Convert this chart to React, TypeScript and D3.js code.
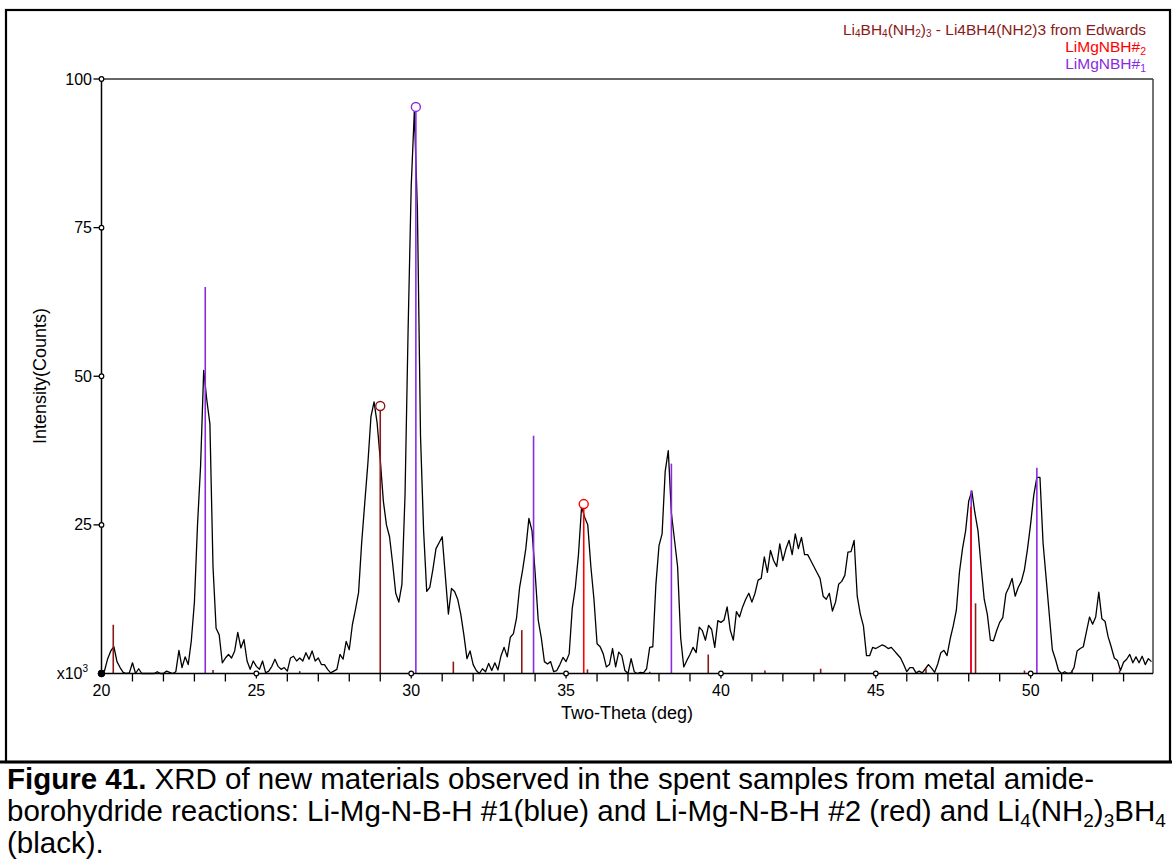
import React from "react";
import * as d3 from "d3";

// XRD pattern of the spent sample, sampled every 0.1 deg two-theta from 20.0
const START_2THETA = 20.0;
const STEP_2THETA = 0.1;
const counts: number[] = [
  // 20.0 - 20.9
  0, 0.5, 2.5, 3.8, 4.5, 2.0, 1.0, 0.2, 0, 0.1,
  // 21.0
  1.8, 0, 0.8, 0, 0, 0, 0, 0, 0.3, 0,
  // 22.0
  0, 0.4, 0.2, 0, 0.3, 3.9, 1.0, 2.8, 1.5, 5.5,
  // 23.0
  12, 25, 35, 51, 46, 42, 18, 7.6, 6.5, 1.8,
  // 24.0
  2.6, 3.2, 2.6, 3.8, 6.9, 4.3, 5.7, 2.1, 0.7, 2.1,
  // 25.0
  1.2, 0.7, 2.1, 0.1, 0.4, 1.2, 2.4, 1.2, 0.7, 1.0,
  // 26.0
  0.4, 2.6, 2.9, 2.1, 2.6, 2.1, 3.5, 2.4, 3.8, 2.1,
  // 27.0
  2.6, 1.5, 1.5, 0.7, 0.1, 0.4, 0.7, 3.2, 2.4, 5.4,
  // 28.0
  4.0, 8.2, 10.8, 13.6, 22.0, 28.7, 35.3, 43.2, 45.7, 42.1,
  // 29.0
  36, 29, 25, 23, 18.5, 13.5, 12, 15, 30, 58,
  // 30.0
  82, 94.5, 78, 40, 24, 13.8, 14.5, 17.5, 21, 22,
  // 31.0
  23, 16.5, 10, 14.3, 13.8, 12.5, 10, 6.5, 2.5, 3.8,
  // 32.0
  1.5, 0.5, 0, 0.8, 0.3, 1.7, 0.5, 1.8, 0.6, 3.0,
  // 33.0
  4.4, 2.8, 6.1, 6.7, 9.3, 14.5, 17.5, 21, 26.1, 24,
  // 34.0
  17, 9, 6, 2.0, 1.6, 2.0, 0.3, 0.5, 1.5, 2.7,
  // 35.0
  2.0, 3.3, 11, 14.5, 20, 28, 26.3, 25, 18, 12.5,
  // 36.0
  5.0, 4.5, 3.3, 1.1, 1.5, 4.2, 1.1, 3.6, 3.0, 0.5,
  // 37.0
  0, 2.5, 0.3, 0, 0.2, 0.1, 0.8, 4.4, 4.5, 15,
  // 38.0
  21.5, 23.5, 34, 37.5, 27, 22.5, 18, 6, 1.1, 2.2,
  // 39.0
  3.2, 4.4, 3.5, 7.8, 7.2, 5.6, 8.1, 7.4, 4.4, 8.9,
  // 40.0
  8.6, 9.0, 11.2, 7.3, 5.6, 10.4, 9.5, 11.2, 12.5, 13.5,
  // 41.0
  12, 13.5, 15.7, 16, 19.6, 17, 20.7, 19, 18, 21.8,
  // 42.0
  19, 21, 22.4, 20, 23.5, 21, 22.9, 20, 20, 19,
  // 43.0
  18, 17, 16, 13, 12.5, 13.5, 10.5, 12, 15, 15.5,
  // 44.0
  16.5, 20.4, 20.5, 22.4, 13, 10, 8.0, 3.0, 3.0, 4.4,
  // 45.0
  4.2, 4.5, 4.8, 4.6, 4.2, 4.4, 3.8, 3.2, 2.6, 1.5,
  // 46.0
  0.3, 1.0, 1.0, 0.1, 0.4, 0.1, 0.8, 1.5, 0.9, 0.2,
  // 47.0
  1.6, 3.5, 3.9, 3.0, 5.8, 8.0, 10.6, 17, 21, 24,
  // 48.0
  29, 30.7, 27, 24, 18, 12.5, 10, 5.6, 5.5, 7.2,
  // 49.0
  8.6, 9.4, 13.4, 14.5, 16, 13, 14.5, 15.5, 17.5, 21,
  // 50.0
  25.2, 30, 33, 33, 22, 16, 10, 4, 2.4, 0.5,
  // 51.0
  0, 0.3, 0, 0.1, 1.0, 3.8, 4.2, 4.5, 7.0, 9.5,
  // 52.0
  8.3, 9.5, 13.7, 9.2, 8.8, 6.2, 4.5, 2.6, 2.2, 0.5,
  // 53.0
  1.9, 2.4, 3.2, 1.8, 2.8, 1.8, 2.9, 1.5, 2.5, 2.0,
];

// Reference stick patterns (two-theta, relative intensity in x10^3 counts)
const mg1Pos = [23.35, 30.15, 33.95, 38.4, 48.08, 50.2];
const mg1Int = [65, 95.3, 40, 35.3, 30.8, 34.6];

const mg2Pos = [35.57, 48.07];
const mg2Int = [28.5, 28];

const edwPos = [20.38, 23.6, 26.4, 29.0, 31.36, 33.57, 35.69, 37.7, 39.59, 41.42, 43.22, 46.62, 48.22, 49.8, 51.34, 52.87];
const edwInt = [8.2, 0.6, 0.4, 45, 2.0, 7.3, 0.7, 0.3, 3.2, 0.5, 0.8, 0.8, 11.8, 0.5, 0.5, 0.5];

// Strongest line of each phase gets an open circle
const mg1Strongest = 30.15;
const mg2Strongest = 35.57;
const edwStrongest = 29.0;

const xMajorTicks = [20, 25, 30, 35, 40, 45, 50];
const xMinorTicks = [21, 22, 23, 24, 26, 27, 28, 29, 31, 32, 33, 34, 36, 37, 38, 39, 41, 42, 43, 44, 46, 47, 48, 49, 51, 52, 53];
const yMajorTicks = [25, 50, 75, 100];

const PURPLE = "#8a2be2";
const RED = "#ff0000";
const DARKRED = "#8b1a1a";
const FONT = "Arial, 'Liberation Sans', Helvetica, sans-serif";

export default function App() {
  const x = d3.scaleLinear().domain([20, 53.95]).range([101.5, 1153]);
  const y = d3.scaleLinear().domain([0, 100]).range([673.5, 79]);

  const pts: [number, number][] = counts.map((c, i) => [START_2THETA + i * STEP_2THETA, c]);
  const line = d3
    .line<[number, number]>()
    .x((d) => x(d[0]))
    .y((d) => y(d[1]));

  const sticks = (pos: number[], ints: number[], color: string, strongest: number, key: string) =>
    pos.map((p, i) => (
      <g key={key + i}>
        <line x1={x(p)} x2={x(p)} y1={y(0)} y2={y(ints[i])} stroke={color} strokeWidth={1.6} />
        {p === strongest && (
          <circle cx={x(p)} cy={y(ints[i])} r={4.5} fill="white" stroke={color} strokeWidth={1.4} />
        )}
      </g>
    ));

  return (
    <div style={{ position: "absolute", left: 0, top: 0 }}>
      <svg width={1172} height={860} style={{ display: "block", background: "white" }} fontFamily={FONT}>
        {/* outer frame and caption divider */}
        <rect x={6} y={10} width={1164} height={752} fill="none" stroke="black" strokeWidth={2.2} />
        <line x1={0} x2={1172} y1={762} y2={762} stroke="black" strokeWidth={3} />

        {/* legend */}
        <g textAnchor="end" fontSize={15.5}>
          <text x={1146} y={35} fill={DARKRED}>
            Li<tspan fontSize={10} dy={2}>4</tspan>
            <tspan dy={-2}>BH</tspan>
            <tspan fontSize={10} dy={2}>4</tspan>
            <tspan dy={-2}>(NH</tspan>
            <tspan fontSize={10} dy={2}>2</tspan>
            <tspan dy={-2}>)</tspan>
            <tspan fontSize={10} dy={2}>3</tspan>
            <tspan dy={-2}> - Li4BH4(NH2)3 from Edwards</tspan>
          </text>
          <text x={1146} y={52} fill={RED}>
            LiMgNBH#<tspan fontSize={10.5} dy={3}>2</tspan>
          </text>
          <text x={1146} y={69} fill={PURPLE}>
            LiMgNBH#<tspan fontSize={10.5} dy={3}>1</tspan>
          </text>
        </g>

        {/* plot frame */}
        <line x1={x(20)} x2={x(53.95)} y1={y(100)} y2={y(100)} stroke="#333" strokeWidth={1.5} />
        <line x1={x(53.95)} x2={x(53.95)} y1={y(100)} y2={y(0)} stroke="#444" strokeWidth={1.5} />

        {/* pattern */}
        <path d={line(pts) || ""} fill="none" stroke="black" strokeWidth={1.3} strokeLinejoin="round" />

        {/* stick patterns */}
        {sticks(edwPos, edwInt, DARKRED, edwStrongest, "e")}
        {sticks(mg1Pos, mg1Int, PURPLE, mg1Strongest, "p")}
        {sticks(mg2Pos, mg2Int, RED, mg2Strongest, "r")}

        {/* axes */}
        <line x1={x(20)} x2={x(53.95)} y1={y(0)} y2={y(0)} stroke="black" strokeWidth={1.5} />
        <line x1={x(20)} x2={x(20)} y1={y(0)} y2={y(100)} stroke="black" strokeWidth={1.5} />

        {xMinorTicks.map((t) => (
          <line key={"mx" + t} x1={x(t)} x2={x(t)} y1={y(0)} y2={y(0) + 8} stroke="black" strokeWidth={1.3} />
        ))}
        {xMajorTicks.map((t) => (
          <g key={"Mx" + t}>
            {t !== 20 && (
              <>
                <line x1={x(t)} x2={x(t)} y1={y(0)} y2={y(0) + 5} stroke="black" strokeWidth={1.3} />
                <circle cx={x(t)} cy={y(0)} r={2.3} fill="white" stroke="black" strokeWidth={1.2} />
              </>
            )}
            <text x={x(t)} y={696} textAnchor="middle" fontSize={16}>
              {t}
            </text>
          </g>
        ))}
        <circle cx={x(20)} cy={y(0)} r={3.4} fill="black" stroke="black" strokeWidth={1} />

        {yMajorTicks.map((t) => (
          <g key={"My" + t}>
            <line x1={x(20) - 8} x2={x(20)} y1={y(t)} y2={y(t)} stroke="black" strokeWidth={1.3} />
            <circle cx={x(20)} cy={y(t)} r={2.3} fill="white" stroke="black" strokeWidth={1.2} />
            <text x={92} y={y(t) + 5.5} textAnchor="end" fontSize={16}>
              {t}
            </text>
          </g>
        ))}
        <text x={88} y={679} textAnchor="end" fontSize={16}>
          x10<tspan fontSize={10} dy={-7}>3</tspan>
        </text>

        <text x={627} y={719} textAnchor="middle" fontSize={18}>
          Two-Theta (deg)
        </text>
        <text transform="translate(46,376) rotate(-90)" textAnchor="middle" fontSize={18}>
          Intensity(Counts)
        </text>

        {/* caption */}
        <g fontSize={29.5}>
          <text x={7} y={789}>
            <tspan fontWeight="bold">Figure 41.</tspan> XRD of new materials observed in the spent samples from metal amide-
          </text>
          <text x={7} y={821}>
            borohydride reactions: Li-Mg-N-B-H #1(blue) and Li-Mg-N-B-H #2 (red) and Li
            <tspan fontSize={19} dy={6}>4</tspan>
            <tspan dy={-6}>(NH</tspan>
            <tspan fontSize={19} dy={6}>2</tspan>
            <tspan dy={-6}>)</tspan>
            <tspan fontSize={19} dy={6}>3</tspan>
            <tspan dy={-6}>BH</tspan>
            <tspan fontSize={19} dy={6}>4</tspan>
          </text>
          <text x={7} y={853}>(black).</text>
        </g>
      </svg>
    </div>
  );
}
